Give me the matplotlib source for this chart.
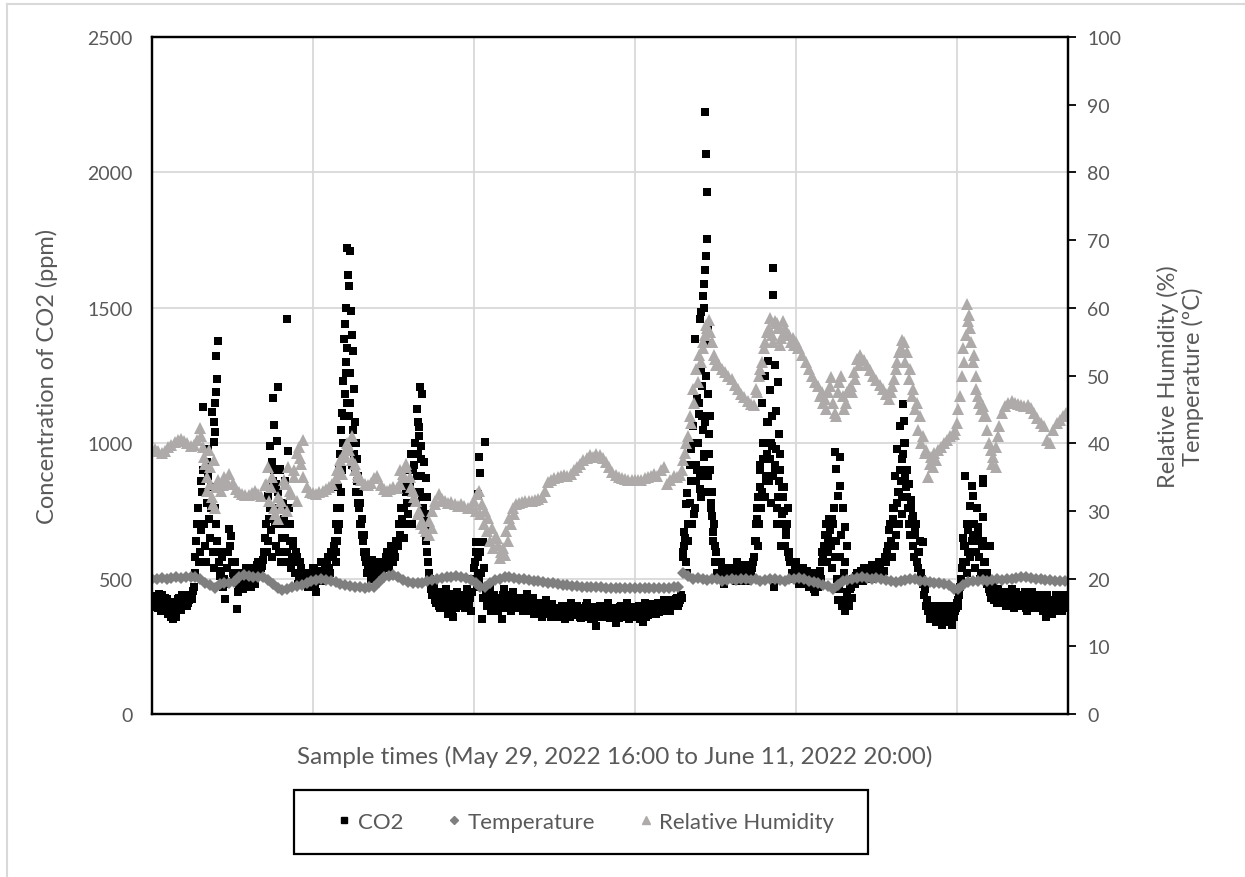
import numpy as np
import matplotlib.pyplot as plt
from matplotlib.lines import Line2D
from matplotlib.patches import Rectangle

plt.rcParams['font.family'] = ['Lato', 'DejaVu Sans']

n_samples = 2845

# CO2 (ppm), samples 0, 6, 12, ...
co2_step = 6
co2_ppm = [
    420, 400, 435, 390, 415, 440, 405, 380, 425, 395,
    360, 350, 390, 410, 430, 385, 415, 440, 400, 420,
    440, 455, 520, 640, 760, 600, 820, 700, 560, 880,
    650, 780, 540, 700, 600, 510, 580, 470, 425, 540,
    683, 657, 520, 560, 388, 480, 500, 460, 520, 490,
    510, 470, 540, 500, 530, 560, 510, 545, 600, 700,
    640, 760, 580, 900, 620, 820, 700, 560, 780, 650,
    600, 760, 540, 620, 520, 580, 500, 540, 490, 520,
    500, 470, 520, 480, 540, 450, 510, 530, 490, 560,
    540, 580, 520, 600, 620, 560, 640, 700, 820, 1000,
    1180, 1350, 1100, 1000, 1050, 900, 860, 760, 700, 640,
    600, 560, 540, 520, 570, 530, 500, 550, 560, 520,
    540, 580, 560, 600, 590, 620, 580, 640, 700, 760,
    850, 700, 900, 780, 960, 820, 1000, 880, 1060, 940,
    800, 720, 640, 560, 500, 440, 470, 410, 450, 390,
    430, 400, 460, 370, 420, 445, 360, 410, 450, 400,
    420, 440, 390, 460, 410, 380, 500, 560, 470, 520,
    600, 350, 540, 450, 420, 470, 390, 440, 410, 380,
    430, 350, 460, 400, 440, 420, 380, 450, 410, 430,
    400, 430, 380, 420, 445, 390, 410, 430, 370, 400,
    410, 380, 360, 400, 420, 370, 390, 405, 360, 380,
    390, 360, 400, 370, 350, 395, 380, 410, 365, 385,
    400, 370, 355, 390, 380, 410, 360, 375, 395, 350,
    325, 380, 400, 360, 390, 370, 410, 355, 385, 375,
    336, 390, 370, 400, 360, 380, 410, 350, 395, 370,
    390, 360, 400, 375, 340, 410, 385, 365, 400, 380,
    400, 370, 410, 390, 380, 420, 395, 405, 380, 410,
    420, 400, 430, 410, 440, 580, 650, 520, 700, 860,
    1000, 760, 900, 1150, 800, 1050, 950, 1250, 880, 1100,
    820, 700, 600, 560, 520, 540, 480, 510, 530, 500,
    540, 500, 520, 560, 490, 530, 510, 550, 500, 540,
    520, 560, 640, 760, 700, 900, 820, 1000, 880, 1080,
    940, 1100, 470, 980, 800, 900, 740, 840, 660, 760,
    600, 560, 520, 540, 500, 480, 520, 540, 500, 530,
    470, 520, 490, 450, 510, 470, 530, 560, 620, 700,
    600, 680, 540, 760, 640, 420, 580, 400, 520, 380,
    450, 400, 470, 500, 480, 520, 500, 530, 490, 510,
    520, 540, 500, 530, 510, 550, 520, 540, 560, 530,
    560, 620, 700, 580, 760, 660, 820, 900, 740, 960,
    880, 800, 700, 760, 620, 660, 560, 600, 520, 480,
    460, 420, 380, 350, 400, 370, 340, 390, 360, 330,
    380, 350, 400, 370, 330, 360, 390, 420, 440, 500,
    560, 620, 520, 700, 600, 660, 540, 760, 580, 520,
    640, 560, 480, 500, 450, 470, 420, 440, 460, 410,
    430, 450, 400, 440, 420, 460, 390, 430, 410, 440,
    420, 400, 450, 380, 430, 410, 440, 390, 420, 400,
    410, 380, 430, 360, 400, 420, 370, 410, 440, 390,
    420, 380, 440, 410,
]

# CO2 (ppm), samples 3, 9, 15, ...
co2_ppm_mid = [
    405, 425, 395, 445, 380, 410, 430, 395, 370, 415,
    380, 370, 360, 425, 395, 440, 400, 425, 410, 435,
    425, 470, 580, 700, 560, 680, 900, 620, 780, 720,
    840, 600, 760, 640, 560, 530, 600, 500, 480, 600,
    620, 560, 490, 520, 450, 520, 470, 500, 540, 470,
    530, 500, 520, 480, 550, 520, 540, 570, 650, 600,
    720, 680, 860, 700, 760, 600, 900, 650, 720, 560,
    700, 640, 580, 560, 600, 480, 560, 520, 500, 480,
    520, 490, 500, 540, 470, 520, 490, 560, 520, 540,
    560, 540, 600, 580, 640, 600, 680, 760, 900, 1100,
    1260, 1000, 1150, 920, 960, 820, 780, 700, 660, 600,
    580, 520, 560, 500, 540, 510, 530, 520, 540, 560,
    560, 600, 540, 620, 560, 600, 640, 620, 660, 720,
    760, 820, 740, 860, 700, 920, 780, 960, 820, 880,
    760, 680, 600, 520, 460, 480, 420, 440, 400, 420,
    410, 440, 390, 430, 400, 380, 420, 390, 430, 420,
    400, 420, 440, 400, 430, 450, 540, 600, 580, 490,
    520, 430, 470, 400, 440, 380, 420, 400, 430, 400,
    410, 440, 390, 420, 400, 430, 410, 400, 390, 420,
    420, 390, 410, 400, 380, 420, 400, 380, 410, 390,
    390, 400, 380, 370, 390, 400, 360, 380, 390, 370,
    375, 390, 360, 385, 400, 370, 360, 385, 395, 370,
    380, 360, 390, 370, 400, 375, 390, 350, 380, 365,
    360, 390, 370, 395, 375, 390, 365, 380, 360, 390,
    370, 355, 395, 375, 390, 360, 385, 380, 360, 395,
    370, 390, 350, 390, 380, 360, 400, 390, 375, 405,
    385, 395, 375, 405, 400, 390, 410, 385, 420, 400,
    410, 425, 400, 420, 430, 620, 560, 640, 780, 700,
    860, 920, 1000, 880, 1100, 900, 1080, 820, 960, 760,
    640, 560, 520, 500, 560, 520, 500, 540, 510, 520,
    510, 530, 490, 520, 540, 500, 520, 490, 530, 510,
    540, 580, 700, 620, 840, 760, 940, 800, 960, 860,
    1000, 880, 920, 760, 860, 700, 800, 620, 700, 580,
    560, 520, 500, 560, 520, 500, 480, 510, 530, 490,
    500, 480, 460, 500, 490, 520, 500, 580, 660, 560,
    720, 620, 700, 580, 500, 460, 660, 420, 560, 420,
    420, 460, 430, 490, 510, 490, 520, 510, 540, 520,
    540, 510, 550, 520, 540, 520, 560, 530, 520, 580,
    600, 680, 640, 720, 620, 780, 700, 860, 800, 1000,
    840, 760, 660, 720, 580, 700, 540, 640, 500, 440,
    400, 380, 360, 390, 350, 400, 380, 350, 400, 370,
    360, 390, 340, 400, 360, 380, 410, 400, 470, 540,
    620, 560, 680, 580, 640, 700, 600, 660, 500, 620,
    560, 500, 520, 460, 430, 490, 440, 410, 430, 450,
    410, 420, 450, 410, 440, 400, 430, 450, 420, 400,
    440, 420, 390, 440, 400, 450, 410, 430, 400, 440,
    390, 420, 400, 440, 370, 410, 400, 380, 420, 440,
    400, 430, 390, 440,
]

# extra CO2 samples inside the peaks (sample number, ppm)
co2_peaks = [
    (146, 700), (152, 860), (158, 1134), (165, 900), (171, 930), (174, 980),
    (183, 760), (186, 1115), (193, 1078), (194, 1004), (196, 1150), (197, 1040),
    (199, 1322), (200, 1189), (202, 1237), (205, 1378),
    (360, 805), (367, 990), (373, 930), (376, 1167), (379, 1067), (385, 850),
    (388, 1008), (391, 1208), (398, 905), (407, 760), (413, 860), (419, 1459),
    (421, 971), (429, 700), (438, 640),
    (568, 640), (572, 700), (575, 760), (578, 840), (581, 900), (584, 960),
    (587, 1050), (590, 1110), (593, 1230), (596, 1385), (599, 1440), (603, 1500),
    (604, 1300), (606, 1722), (607, 1150), (609, 1620), (612, 1580), (614, 1260),
    (615, 1710), (618, 1490), (621, 1400), (624, 1340), (627, 1200), (630, 1080),
    (633, 1000), (637, 940), (640, 880), (643, 820), (646, 780), (652, 720),
    (658, 660), (665, 600),
    (783, 650), (786, 700), (792, 780), (801, 840), (811, 900), (820, 960),
    (823, 1126), (826, 1080), (829, 1027), (832, 1207), (836, 990), (839, 1180),
    (845, 930), (848, 740), (851, 870), (854, 800), (857, 680),
    (1006, 635), (1013, 812), (1016, 949), (1019, 890), (1028, 635), (1034, 1004),
    (1650, 600), (1653, 672), (1659, 776), (1662, 816), (1665, 700), (1671, 920),
    (1675, 980), (1681, 1064), (1684, 740), (1687, 1385), (1690, 860), (1693, 1167),
    (1699, 1108), (1701, 831), (1702, 1459), (1705, 1485), (1706, 1267), (1709, 1211),
    (1712, 1544), (1713, 960), (1715, 1588), (1716, 1500), (1717, 1640), (1718, 2223),
    (1720, 1691), (1721, 2068), (1723, 1928), (1724, 1754), (1726, 1182), (1727, 1420),
    (1729, 1034), (1730, 1370), (1733, 900), (1736, 780), (1739, 731), (1742, 672),
    (1748, 620),
    (1876, 640), (1879, 720), (1882, 800), (1888, 920), (1895, 1150), (1898, 1000),
    (1904, 1250), (1907, 860), (1910, 1080), (1913, 1304), (1920, 1197), (1923, 780),
    (1926, 990), (1929, 1647), (1930, 1547), (1934, 900), (1935, 1290), (1938, 1120),
    (1941, 700), (1944, 1226), (1947, 1034), (1951, 960), (1954, 620), (1957, 840),
    (1963, 750), (1969, 680), (1975, 600),
    (2081, 600), (2100, 650), (2112, 720), (2121, 967), (2124, 905), (2131, 805),
    (2137, 950), (2138, 842), (2146, 760), (2152, 690), (2159, 620),
    (2295, 640), (2302, 760), (2308, 879), (2314, 980), (2315, 700), (2320, 820),
    (2323, 1064), (2330, 942), (2333, 1145), (2336, 1082), (2339, 1000), (2345, 900),
    (2351, 850), (2357, 790), (2364, 731), (2370, 680), (2379, 600), (2395, 635),
    (2519, 650), (2525, 879), (2531, 700), (2534, 600), (2541, 768), (2547, 842),
    (2550, 805), (2557, 640), (2566, 690), (2580, 727), (2581, 868), (2582, 853),
    (2603, 620),
]

# relative humidity (%), every 10th sample
rh_step = 10
rh_pct = [
    39, 39.2, 38.8, 38.5, 38.9, 39.4, 39.8, 40.2, 40.5, 40.6,
    40.3, 40.1, 39.6, 39.8, 40.5, 42.3, 38, 33, 36.5, 31,
    33.5, 34, 33.8, 34.5, 35.5, 34.2, 33.3, 32.8, 32.5, 32.3,
    32.4, 32.6, 33, 32.5, 32.2, 33.8, 36.5, 33.5, 30.5, 28.8,
    31.5, 34.5, 30, 33, 36, 31.5, 37.8, 40.5, 33.5, 32.8,
    32.6, 32.5, 32.8, 33, 33.2, 33.5, 34, 34.8, 36.5, 35.5,
    38, 39.8, 41, 37, 35.5, 34.5, 34, 33.8, 34.2, 34.8,
    35.2, 33.8, 33.3, 33, 33.2, 33.6, 33.4, 34, 35.5, 37,
    35, 33, 31.5, 30, 28.5, 27, 26.5, 27.5, 31, 32.5,
    31.8, 31.5, 31.2, 31.3, 31, 30.8, 31, 30.7, 30.5, 30.8,
    31.5, 32.5, 29.5, 28, 27, 25.5, 24.5, 26, 23, 24.5,
    27, 29, 30.5, 31, 31.2, 31.3, 31.5, 31.4, 31.5, 31.6,
    31.8, 32, 33, 34.3, 34.6, 34.8, 35, 35.2, 35.3, 35.2,
    35.5, 36, 36.5, 37, 37.5, 37.8, 38.2, 38, 38.4, 38.3,
    37.8, 37.2, 36.5, 35.8, 35.3, 35, 34.8, 34.7, 34.6, 34.5,
    34.6, 34.5, 34.6, 34.8, 35, 35.2, 35.5, 35.2, 36, 36.5,
    34, 34.5, 35.2, 35, 35.3, 37.5, 40, 44, 48, 51,
    53, 55, 57.5, 58.2, 55, 52.5, 51.5, 51, 50.5, 50,
    49.5, 48.6, 48, 47.3, 46.8, 46.3, 45.8, 45.6, 47.5, 51,
    54, 56.5, 58.5, 55, 57.8, 54.5, 58, 56.5, 56, 55.5,
    55, 54, 53, 52, 51, 50, 49, 48.5, 47.5, 46.5,
    47.5, 49.8, 44.5, 47.5, 50, 45, 47.5, 48.5, 50.5, 52.5,
    53, 52.3, 51.5, 50.8, 50, 49.3, 48.6, 48, 47.3, 46.5,
    48.5, 51, 53.5, 55.2, 52, 49.5, 47, 45, 42, 40,
    38.5, 35, 38, 38.5, 39, 39.5, 40, 40.5, 41, 41.3,
    43, 47, 54, 60.5, 57, 52, 48, 46, 45.5, 44,
    40, 37, 39.5, 42.5, 44.5, 45.5, 46, 46.2, 46, 45.8,
    45.7, 45.5, 45.6, 45.2, 44.5, 43.8, 43, 42.5, 40.5, 40,
    42, 43, 43.5, 44, 44.5,
]

# extra RH samples in the fast-changing stretches (sample number, %)
rh_peaks = [
    (152, 41), (158, 39.5), (165, 37), (170, 35), (176, 39), (181, 34),
    (186, 32), (191, 37.5), (196, 30.5), (205, 34.5), (215, 33), (225, 35),
    (235, 34),
    (355, 34), (362, 31.5), (372, 35), (381, 29.5), (392, 32), (402, 30.5),
    (413, 34), (423, 36.5), (433, 32.5), (441, 35), (450, 38.5), (456, 39.5),
    (462, 37), (468, 35),
    (575, 36), (585, 37.5), (595, 38.5), (605, 40), (612, 39), (620, 37.5),
    (630, 36), (640, 35),
    (770, 36), (780, 35), (790, 36.5), (805, 33.5), (815, 32), (825, 29.5),
    (835, 28), (845, 27.5), (860, 28.5), (870, 30), (880, 31.5),
    (1005, 30), (1015, 33), (1025, 31), (1035, 30), (1045, 29), (1055, 27.5),
    (1065, 26), (1075, 25), (1085, 24), (1095, 23.5), (1105, 25.5), (1115, 28),
    (1125, 29.5),
    (1645, 36), (1655, 38.5), (1665, 41), (1675, 43), (1685, 46), (1695, 49),
    (1705, 52), (1712, 54), (1718, 56), (1725, 57), (1732, 56.5), (1738, 55),
    (1745, 53), (1752, 51.5),
    (1875, 48), (1885, 50), (1895, 52), (1905, 55), (1915, 57), (1925, 56),
    (1935, 58), (1945, 57), (1955, 55.5), (1965, 57), (1975, 56), (1985, 55),
    (1995, 54.5), (2005, 54),
    (2075, 47), (2085, 46), (2095, 45), (2105, 48.5), (2115, 46), (2125, 44),
    (2135, 49), (2145, 47), (2155, 46), (2165, 48), (2175, 47.5), (2185, 49.5),
    (2195, 51.5),
    (2295, 47.5), (2305, 49.5), (2315, 52), (2325, 54), (2335, 55), (2345, 53.5),
    (2355, 51), (2365, 48), (2375, 46), (2385, 44), (2395, 41), (2405, 39),
    (2415, 37), (2425, 36.5), (2435, 37.5),
    (2495, 42), (2505, 45), (2515, 50), (2522, 52), (2528, 56), (2533, 58),
    (2538, 59), (2545, 55), (2552, 53), (2558, 50), (2565, 47), (2575, 45),
    (2585, 44), (2595, 42), (2605, 39), (2612, 38), (2620, 36.5), (2628, 41),
]

# temperature (deg C), every 15th sample
temp_step = 15
temp_c = [
    19.9, 20, 20.1, 20, 20.1, 20.2, 20.1, 20.2, 20.3, 20.2,
    20, 19.4, 19, 18.6, 19.2, 19.4, 19.3, 19.5, 20.2, 20.6,
    20.4, 20.3, 20.2, 20.3, 19.8, 19.2, 18.6, 18.3, 18.5, 18.7,
    18.9, 19, 19.3, 19.6, 19.8, 19.9, 19.8, 19.7, 19.5, 19.2,
    19, 18.9, 18.8, 18.7, 18.6, 18.7, 18.8, 19.5, 20.2, 20.4,
    20.5, 20.3, 19.8, 19.5, 19.4, 19.3, 19.4, 19.6, 19.8, 20,
    20.1, 20.3, 20.2, 20.4, 20.3, 20.1, 19.8, 19.4, 18.8, 18.7,
    19.4, 19.8, 20, 20.2, 20.2, 20.1, 20, 19.9, 19.8, 19.7,
    19.6, 19.5, 19.4, 19.3, 19.2, 19.1, 19, 18.9, 18.9, 18.8,
    18.8, 18.7, 18.7, 18.7, 18.6, 18.6, 18.6, 18.6, 18.6, 18.6,
    18.6, 18.6, 18.6, 18.6, 18.6, 18.6, 18.6, 18.6, 18.7, 18.8,
    20.8, 20.4, 20, 20.1, 19.9, 19.8, 20, 19.9, 19.7, 19.8,
    19.9, 19.8, 19.9, 20, 19.8, 19.9, 19.7, 19.8, 19.9, 20,
    19.8, 19.6, 19.9, 20, 20.1, 19.9, 19.7, 19.5, 19.3, 19,
    18.9, 18.5, 19, 19.6, 19.8, 20, 20.1, 20.2, 20.1, 20,
    20.1, 20, 19.8, 19.6, 19.5, 19.7, 19.8, 20, 19.9, 19.7,
    19.6, 19.5, 19.4, 19.3, 19.2, 19, 18.4, 18.5, 19, 19.5,
    19.7, 19.6, 19.8, 19.7, 19.8, 19.9, 19.8, 19.9, 20, 20.1,
    20.2, 20.3, 20.1, 20, 19.9, 19.8, 19.8, 19.7, 19.6, 19.7,
]

text_col = '#595959'
co2_col = 'black'
temp_col = '#7F7F7F'
rh_col = '#AEAAAA'

co2_x = np.arange(len(co2_ppm)) * co2_step
co2_mid_x = np.arange(len(co2_ppm_mid)) * co2_step + co2_step // 2
peak_x = [p[0] for p in co2_peaks]
peak_y = [p[1] for p in co2_peaks]
rh_x = np.arange(len(rh_pct)) * rh_step
rh_px = [p[0] for p in rh_peaks]
rh_py = [p[1] for p in rh_peaks]
temp_x = np.arange(len(temp_c)) * temp_step

fig = plt.figure(figsize=(12.45, 8.78), dpi=100)
ax = fig.add_axes([0.1221, 0.1856, 0.7357, 0.7711])
ax2 = ax.twinx()

ax.plot(co2_x, co2_ppm, 's', color=co2_col, ms=5.4, mew=0)
ax.plot(co2_mid_x, co2_ppm_mid, 's', color=co2_col, ms=5.4, mew=0)
ax.plot(peak_x, peak_y, 's', color=co2_col, ms=5.4, mew=0)
ax2.plot(temp_x, temp_c, 'D', color=temp_col, ms=6.4, mew=0)
ax2.plot(rh_x, rh_pct, '^', color=rh_col, ms=9, mew=0)
ax2.plot(rh_px, rh_py, '^', color=rh_col, ms=9, mew=0)

ax.set_xlim(0, n_samples)
ax.set_ylim(0, 2500)
ax2.set_ylim(0, 100)
ax.set_yticks(np.arange(0, 2501, 500))
ax2.set_yticks(np.arange(0, 101, 10))
ax.set_xticks(np.arange(500, n_samples, 500))
ax.set_xticklabels([])
ax.tick_params(axis='x', length=0)
ax.tick_params(axis='y', length=0, pad=14, labelsize=14, labelcolor=text_col)
ax2.tick_params(axis='y', length=6, width=1.3, direction='out', pad=8,
                labelsize=14, labelcolor=text_col, color='black')

ax.grid(True, color='#D9D9D9', lw=1.3)
ax.set_axisbelow(True)
for a in (ax, ax2):
    for s in a.spines.values():
        s.set_color('black')
        s.set_linewidth(1.6)

ax.set_xlabel('Sample times (May 29, 2022 16:00 to June 11, 2022 20:00)',
              fontsize=17.5, color=text_col)
ax.xaxis.set_label_coords(0.505, -0.045)
ax.set_ylabel('Concentration of CO2 (ppm)', fontsize=17, color=text_col)
ax.yaxis.set_label_coords(-0.1026, 0.5)
ax2.set_ylabel('Relative Humidity (%)\nTemperature (ºC)', fontsize=17,
               color=text_col, linespacing=1.15)
ax2.yaxis.set_label_coords(1.097, 0.5)

# legend: box drawn separately to get the wide Excel-style padding
fig.add_artist(Rectangle((0.2361, 0.0262), 0.4610, 0.0729,
                         transform=fig.transFigure, fill=False,
                         edgecolor='black', lw=1.6))
handles = [
    Line2D([], [], ls='none', marker='s', color=co2_col, ms=5),
    Line2D([], [], ls='none', marker='D', color=temp_col, ms=3.8),
    Line2D([], [], ls='none', marker='^', color=rh_col, ms=5.5),
]
fig.legend(handles, ['CO2', 'Temperature', 'Relative Humidity'],
           loc='center', bbox_to_anchor=(0.4707, 0.0626), ncol=3,
           frameon=False, handlelength=0.6, handletextpad=0.3,
           columnspacing=2.0, fontsize=16, labelcolor=text_col)

# chart area border (left and top edges visible)
fig.add_artist(Line2D([0.0056, 0.0056], [0, 0.994], transform=fig.transFigure,
                      color='#D9D9D9', lw=1.5))
fig.add_artist(Line2D([0.0056, 1], [0.994, 0.994], transform=fig.transFigure,
                      color='#D9D9D9', lw=1.5))

fig.savefig('out.png', dpi=100)
